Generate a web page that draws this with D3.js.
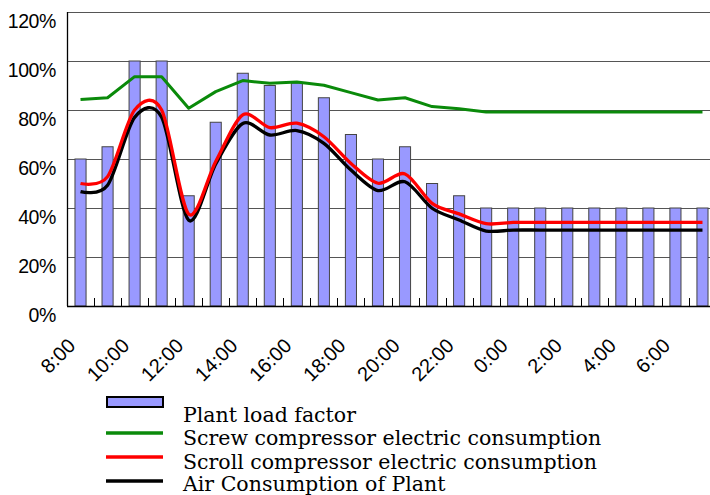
<!DOCTYPE html>
<html>
<head>
<meta charset="utf-8">
<script src="https://cdn.jsdelivr.net/npm/d3@7"></script>
<style>
  html, body { margin: 0; padding: 0; background: #fff; }
  svg { display: block; }
</style>
</head>
<body>
<svg id="chart" width="710" height="495"></svg>
<script>
// ---- data ----
const hours = ["8:00","9:00","10:00","11:00","12:00","13:00","14:00","15:00","16:00","17:00","18:00","19:00",
               "20:00","21:00","22:00","23:00","0:00","1:00","2:00","3:00","4:00","5:00","6:00","7:00"];
const tickLabels = ["8:00","10:00","12:00","14:00","16:00","18:00","20:00","22:00","0:00","2:00","4:00","6:00"];
const yTicks = [0, 20, 40, 60, 80, 100, 120];
const plantLoad = [60,65,100,100,45,75,95,90,91,85,70,60,65,50,45,40,40,40,40,40,40,40,40,40];
const screwElec = [84.3,85,93.6,93.6,80.7,87.5,92,90.9,91.4,90.1,87.1,84.1,85,81.4,80.5,79.2,79.2,79.2,79.2,79.2,79.2,79.2,79.2,79.2];
const scrollElec = [50,52.8,80,80,37.5,59,78,72.8,74.6,69.1,58.2,50.1,53.9,41.9,37.6,33.6,34.1,34.1,34.1,34.1,34.1,34.1,34.1,34.1];
const airCons = [46.7,49.3,77,77,35,58,74.5,69.8,71.6,66.4,55.5,47.1,50.7,39.9,35.1,30.6,31,31,31,31,31,31,31,31];
const legendItems = [
  {label: "Plant load factor", type: "bar", color: "#9999FF"},
  {label: "Screw compressor electric consumption", type: "line", color: "#0A8A0A"},
  {label: "Scroll compressor electric consumption", type: "line", color: "#FF0000"},
  {label: "Air Consumption of Plant", type: "line", color: "#000000"}
];

// ---- layout ----
const svg = d3.select("#chart");
const pLeft = 67, pTop = 12, pBottom = 306, pRight = 716;

const x = d3.scaleBand().domain(hours).range([pLeft, pRight]).padding(0);
const y = d3.scaleLinear().domain([0, 120]).range([pBottom, pTop]);
const cx = d => x(d) + x.bandwidth() / 2;
const barW = x.bandwidth() * 0.41;

// gridlines
svg.append("g").selectAll("line").data(yTicks.filter(t => t > 0)).join("line")
  .attr("x1", pLeft).attr("x2", pRight)
  .attr("y1", d => Math.round(y(d)) + 0.5).attr("y2", d => Math.round(y(d)) + 0.5)
  .attr("stroke", "#555").attr("stroke-width", 1.2);

// bars
svg.append("g").selectAll("rect").data(hours).join("rect")
  .attr("x", (d) => cx(d) - barW / 2)
  .attr("y", (d, i) => y(plantLoad[i]))
  .attr("width", barW)
  .attr("height", (d, i) => y(0) - y(plantLoad[i]))
  .attr("fill", "#9999FF").attr("stroke", "#444").attr("stroke-width", 1);

// inner ticks at band boundaries
svg.append("g").selectAll("line").data(hours.slice(1)).join("line")
  .attr("x1", d => Math.round(x(d)) + 0.5).attr("x2", d => Math.round(x(d)) + 0.5)
  .attr("y1", pBottom).attr("y2", pBottom - 8)
  .attr("stroke", "#000").attr("stroke-width", 1);

// axes lines
svg.append("line").attr("x1", pLeft + 0.5).attr("x2", pLeft + 0.5).attr("y1", pTop).attr("y2", pBottom)
  .attr("stroke", "#000").attr("stroke-width", 1.3);
svg.append("line").attr("x1", pLeft).attr("x2", pRight).attr("y1", pBottom + 0.5).attr("y2", pBottom + 0.5)
  .attr("stroke", "#000").attr("stroke-width", 1.5);

// y labels
svg.append("g").selectAll("text").data(yTicks).join("text")
  .attr("x", 56).attr("y", d => y(d) + 16)
  .attr("text-anchor", "end")
  .attr("font-family", "Liberation Sans, Arial, sans-serif")
  .attr("font-size", 19.5).attr("letter-spacing", -0.4)
  .attr("fill", "#000")
  .text(d => d + "%");

// x labels
svg.append("g").selectAll("text").data(tickLabels).join("text")
  .attr("transform", d => `translate(${cx(d) - 4},347) rotate(-45)`)
  .attr("text-anchor", "end")
  .attr("font-family", "Liberation Sans, Arial, sans-serif")
  .attr("font-size", 20)
  .attr("fill", "#000")
  .text(d => d);

// lines
const smooth = d3.line().x((d, i) => cx(hours[i])).y(d => y(d)).curve(d3.curveCardinal.tension(0.1));
const straight = d3.line().x((d, i) => cx(hours[i])).y(d => y(d)).curve(d3.curveLinear);

svg.append("path").attr("d", straight(screwElec)).attr("fill", "none")
  .attr("stroke", "#0A8A0A").attr("stroke-width", 3).attr("stroke-linejoin", "round");
svg.append("path").attr("d", smooth(airCons)).attr("fill", "none")
  .attr("stroke", "#000").attr("stroke-width", 3.3);
svg.append("path").attr("d", smooth(scrollElec)).attr("fill", "none")
  .attr("stroke", "#FF0000").attr("stroke-width", 3.3);

// legend
const lg = svg.append("g");
const symY = [402, 433, 457, 481];
const txtY = [422, 445, 469, 491];
legendItems.forEach((it, i) => {
  if (it.type === "bar") {
    lg.append("rect").attr("x", 107).attr("y", 397).attr("width", 56).attr("height", 10)
      .attr("fill", it.color).attr("stroke", "#000").attr("stroke-width", 2);
  } else {
    lg.append("line").attr("x1", 106).attr("x2", 163).attr("y1", symY[i]).attr("y2", symY[i])
      .attr("stroke", it.color).attr("stroke-width", 3.5);
  }
  lg.append("text").attr("x", 183).attr("y", txtY[i])
    .attr("font-family", "DejaVu Serif, serif")
    .attr("font-size", 20.5).attr("fill", "#000")
    .text(it.label);
});
</script>
</body>
</html>
